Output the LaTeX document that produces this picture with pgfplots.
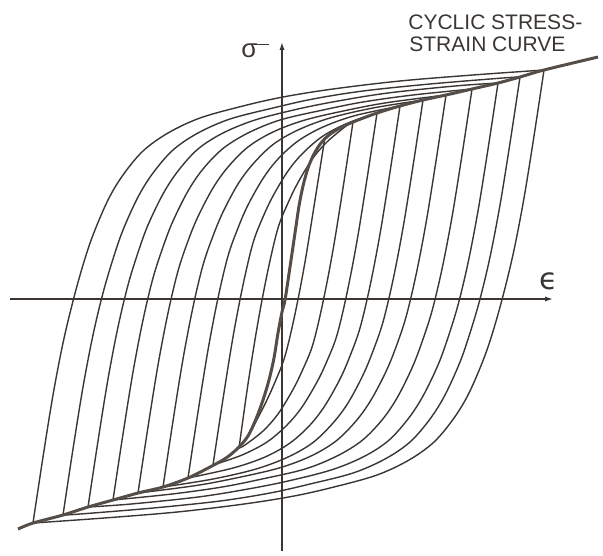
\documentclass[border=0pt]{standalone}
\usepackage{pgfplots}
\pgfplotsset{compat=1.18}
\usetikzlibrary{arrows.meta}
\usepackage{fontspec}
\setmainfont{Liberation Sans}
\newfontfamily\dejavu{DejaVu Sans}
\definecolor{ink}{HTML}{3B3632}
\definecolor{thickink}{HTML}{554D47}

\begin{document}
\begin{tikzpicture}
\begin{axis}[
  width=301.5pt, height=277.5pt, scale only axis,
  xmin=0, xmax=603, ymin=0, ymax=555,
  y dir=reverse, hide axis, clip=false,
  loop/.style={ink, line width=0.7pt, smooth, tension=0.55, no marks},
]
\path (axis cs:0,0) rectangle (axis cs:603,555);

% axes (pixel coordinates, y downwards)
\draw[ink, line width=0.7pt, -{Latex[length=4pt,width=2.6pt]}] (axis cs:10,299) -- (axis cs:553,299);
\draw[ink, line width=0.7pt, -{Latex[length=4pt,width=2.6pt]}] (axis cs:282,551) -- (axis cs:282,42);

% loop 1
\addplot[loop] coordinates {(33,523)(43,457)(53,395)(63,343)(73,301)(83,265)(93,235)(108,200)(123,175)(143,151)(168,133)(200,118)(243,106)(283,97)(333,89)(400,81)(473,75)(544,70)};
\addplot[loop] coordinates {(544,70)(534,136)(524,198)(514,250)(504,292)(494,328)(484,358)(469,393)(454,418)(434,442)(409,460)(377,475)(334,487)(294,496)(244,504)(177,512)(104,518)(33,523)};
% loop 2
\addplot[loop] coordinates {(63,515)(73,449)(83,387)(93,335)(103,293)(113,259)(123,230)(138,197)(153,173)(173,150)(198,133)(230,119)(273,108)(313,99)(363,91)(430,84)(503,78)(520,77)};
\addplot[loop] coordinates {(520,77)(510,143)(500,205)(490,257)(480,299)(470,333)(460,362)(445,395)(430,419)(410,442)(385,459)(353,473)(310,484)(270,493)(220,501)(153,508)(80,514)(63,515)};
% loop 3
\addplot[loop] coordinates {(88,507)(98,441)(108,379)(118,327)(128,285)(138,252.5)(148,225)(163,194)(178,171)(198,149)(223,133)(255,120)(298,109)(338,101)(388,93)(455,86)(498,83)};
\addplot[loop] coordinates {(498,83)(488,149)(478,211)(468,263)(458,305)(448,337.5)(438,365)(423,396)(408,419)(388,441)(363,457)(331,470)(288,481)(248,489)(198,497)(131,504)(88,507)};
% loop 4
\addplot[loop] coordinates {(113,500)(123,434)(133,372)(143,320)(153,278)(163,247)(173,221)(188,191)(203,169)(223,148.5)(248,133)(280,120)(323,110)(363,102)(413,95)(472,89)};
\addplot[loop] coordinates {(472,89)(462,155)(452,217)(442,269)(432,311)(422,342)(412,368)(397,398)(382,420)(362,440.5)(337,456)(305,469)(262,479)(222,487)(172,494)(113,500)};
% loop 5
\addplot[loop] coordinates {(138,493)(148,427)(158,365)(168,313)(178,271)(188,241)(198,216.5)(213,188)(228,167)(248,147)(273,132)(305,120)(348,110)(388,102.5)(446,95)};
\addplot[loop] coordinates {(446,95)(436,161)(426,223)(416,275)(406,317)(396,347)(386,371.5)(371,400)(356,421)(336,441)(311,456)(279,468)(236,478)(196,485.5)(138,493)};
% loop 6
\addplot[loop] coordinates {(163,487)(173,421)(183,359)(193,307)(203,265)(213,236)(223,212)(238,184)(253,164)(273,144.5)(298,130)(330,118)(373,108)(423,100)};
\addplot[loop] coordinates {(423,100)(413,166)(403,228)(393,280)(383,322)(373,351)(363,375)(348,403)(333,423)(313,442.5)(288,457)(256,469)(213,479)(163,487)};
% loop 7
\addplot[loop] coordinates {(188,478)(198,412)(208,350)(218,298)(228,256)(238,228)(248,205)(263,178.5)(278,159)(298,141)(323,127)(355,115.6)(400,106)};
\addplot[loop] coordinates {(400,106)(390,172)(380,234)(370,286)(360,328)(350,356)(340,379)(325,405.5)(310,425)(290,443)(265,457)(233,468)(188,478)};
% loop 8
\addplot[loop] coordinates {(213,465)(223,399)(233,337)(243,285)(253,243)(263,217)(273,196)(288,171)(303,153)(323,136)(348,123)(377,113)};
\addplot[loop] coordinates {(377,113)(367,179)(357,241)(347,293)(337,335)(327,361)(317,382)(302,407)(287,425)(267,442)(242,455)(213,465)};
% loop 9
\addplot[loop] coordinates {(239,448)(248,384)(258,322)(268,270)(278,228)(288,203)(298,182.5)(313,158)(328,141)(348,124.5)(353,122)};
\addplot[loop] coordinates {(353,122)(343,188)(333,250)(323,302)(313,344)(303,369)(293,389.5)(278,414)(263,431)(245,445)(239,448)};
% loop 10 (rising branch lies on the cyclic curve)
\addplot[loop] coordinates {(325,137)(315,200)(305,262)(295,314)(285,356)(275,382)(265,404)(251,431)};

% cyclic stress-strain curve
\addplot[thickink, line width=1.5pt, smooth, tension=0.5, no marks] coordinates {
  (18,529)(33,523)(63,515)(88,507)(113,500)(138,493)(163,487)(188,478)(210,467)
  (226,458)(238,448)(248,436)(256,419)(263,400)(269,380)(274,358)(278,333)(282,312)
  (285,300)(290,267)(295,233)(299,206)(303,186)(308,168)(314,154)(321,143)(329,135)
  (340,128)(353,122)(377,113)(400,106)(423,100)(446,95)(472,89)(498,83)(520,77)(544,70)(598,57)};

\node[anchor=base west, font=\fontsize{10.5}{12}\selectfont, text=ink, inner sep=0pt] at (axis cs:408,30) {CYCLIC STRESS-};
\node[anchor=base west, font=\fontsize{10.5}{12}\selectfont, text=ink, inner sep=0pt] at (axis cs:409,52) {STRAIN CURVE};
\node[anchor=base west, font=\fontsize{13}{14}\selectfont, text=ink, inner sep=0pt] at (axis cs:241,58) {σ\kern-1.6pt\rule[6.4pt]{7.5pt}{0.65pt}};
\node[anchor=base west, font=\dejavu\fontsize{15}{16}\selectfont, text=ink, inner sep=0pt] at (axis cs:539,289) {ϵ};
\end{axis}
\end{tikzpicture}
\end{document}
